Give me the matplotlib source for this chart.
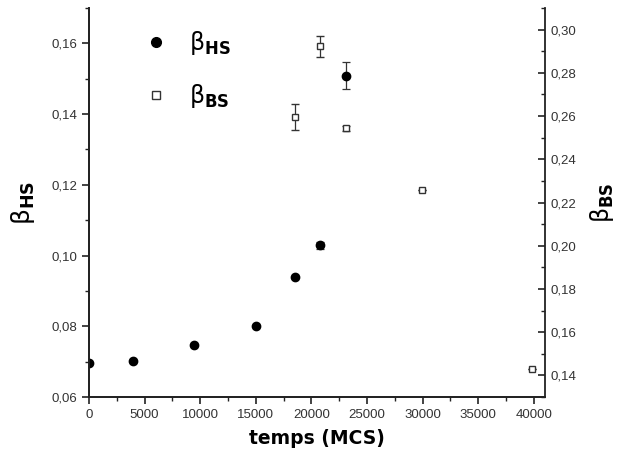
import matplotlib
matplotlib.use("Agg")
import matplotlib.pyplot as plt
from matplotlib.ticker import MultipleLocator, FuncFormatter
from matplotlib.lines import Line2D

# Data
hs_x = [0, 4000, 9400, 15000, 18500, 20800, 23100]
hs_y = [0.0696, 0.0702, 0.0746, 0.0801, 0.0940, 0.1029, 0.1509]
hs_err = [0, 0, 0, 0, 0, 0.0010, 0.0038]

bs_x = [18500, 20800, 23100, 29900, 39800]
bs_y = [0.2597, 0.2922, 0.2543, 0.2260, 0.1428]
bs_err = [0.0060, 0.0048, 0.0012, 0, 0]

x_ticks = [0, 5000, 10000, 15000, 20000, 25000, 30000, 35000, 40000]
left_ticks = [0.06, 0.08, 0.10, 0.12, 0.14, 0.16]
right_ticks = [0.14, 0.16, 0.18, 0.20, 0.22, 0.24, 0.26, 0.28, 0.30]

plt.rcParams['font.family'] = ['Liberation Sans', 'DejaVu Sans']
plt.rcParams['mathtext.fontset'] = 'dejavusans'

fig = plt.figure(figsize=(6.21, 4.55), dpi=100)
ax = fig.add_axes([89/621, 1-397/455, (545-89)/621, (397-8)/455])
ax2 = ax.twinx()

comma = FuncFormatter(lambda v, p: f"{v:.2f}".replace('.', ','))

ax.errorbar(hs_x, hs_y, yerr=hs_err, fmt='o', color='black', ms=6,
            ecolor='#333333', elinewidth=0.9, capsize=3, capthick=0.9,
            clip_on=True, zorder=5)
ax2.errorbar(bs_x, bs_y, yerr=bs_err, fmt='s', mfc='white', mec='#333333',
             mew=1.0, ms=5, ecolor='#333333', elinewidth=0.9, capsize=3,
             capthick=0.9, clip_on=False, zorder=5)

ax.set_xlim(0, 41000)
ax.set_ylim(0.06, 0.17)
ax2.set_ylim(0.13, 0.31)

ax.set_xticks(x_ticks)
ax.xaxis.set_minor_locator(MultipleLocator(2500))
ax.set_yticks(left_ticks)
ax.yaxis.set_minor_locator(MultipleLocator(0.01))
ax.yaxis.set_major_formatter(comma)
ax2.set_yticks(right_ticks)
ax2.yaxis.set_minor_locator(MultipleLocator(0.01))
ax2.yaxis.set_major_formatter(comma)

for a in (ax, ax2):
    a.spines['top'].set_visible(False)
    for s in a.spines.values():
        s.set_linewidth(1.3)
        s.set_color('#222222')

ax.spines['right'].set_visible(False)
ax.tick_params(axis='both', which='major', direction='out', length=5, width=1.2,
               labelsize=9.5, colors='#222222', labelcolor='#333333')
ax.tick_params(axis='both', which='minor', direction='out', length=3, width=1.0,
               colors='#222222')
ax2.tick_params(axis='y', which='major', direction='in', length=5, width=1.2,
                labelsize=9.5, colors='#222222', labelcolor='#333333', pad=4)
ax2.tick_params(axis='y', which='minor', direction='in', length=3, width=1.0,
                colors='#222222')

lab_hs = r'$\mathrm{\beta}_{\mathbf{HS}}$'
lab_bs = r'$\mathrm{\beta}_{\mathbf{BS}}$'

ax.set_xlabel('temps (MCS)', fontsize=13.5, fontweight='bold', family='DejaVu Sans',
              labelpad=6)
ax.set_ylabel(lab_hs, fontsize=18, labelpad=10)
ax2.set_ylabel(lab_bs, fontsize=17, labelpad=8)

p1 = Line2D([], [], marker='o', ls='none', color='black', ms=7)
p2 = Line2D([], [], marker='s', ls='none', mfc='white', mec='#333333', mew=1.0, ms=6)
ax.legend([p1, p2], [lab_hs, lab_bs],
          loc='upper left', bbox_to_anchor=(0.075, 1.0), frameon=False,
          fontsize=17, handlelength=1.0, handletextpad=0.9,
          labelspacing=1.05)

fig.savefig('out.png', dpi=100)
